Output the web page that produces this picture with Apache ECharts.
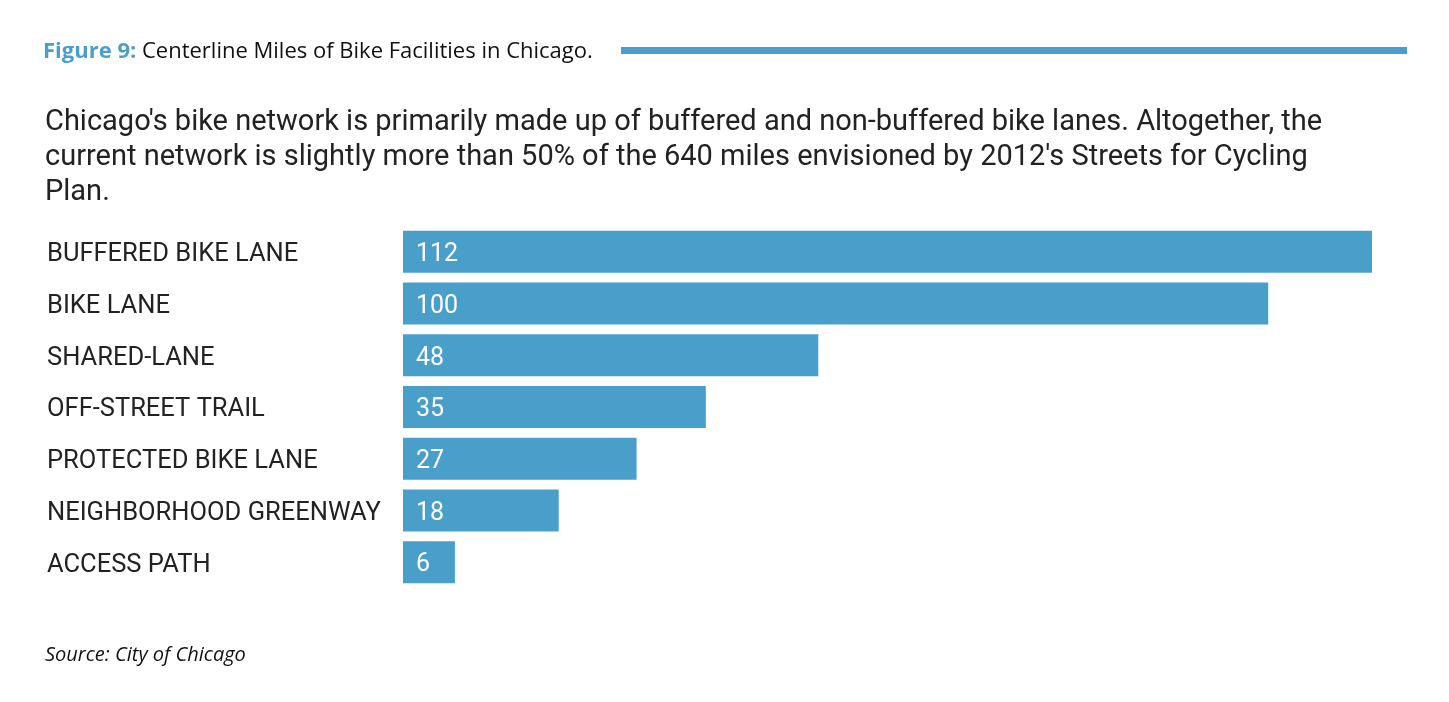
<!DOCTYPE html>
<html lang="en">
<head>
    <meta charset="UTF-8">
    <title>Centerline Miles of Bike Facilities in Chicago</title>
    <script src="https://cdn.jsdelivr.net/npm/echarts@6/dist/echarts.min.js"></script>
    <style>
        html, body { margin: 0; padding: 0; background: #fff; }
    </style>
</head>
<body>
<div id="container" style="width:1449px;height:702px;"></div>
<script>
    var categories = [
        'BUFFERED BIKE LANE',
        'BIKE LANE',
        'SHARED-LANE',
        'OFF-STREET TRAIL',
        'PROTECTED BIKE LANE',
        'NEIGHBORHOOD GREENWAY',
        'ACCESS PATH'
    ];
    var miles = [112, 100, 48, 35, 27, 18, 6];

    var subtitleLines = [
        "Chicago's bike network is primarily made up of buffered and non-buffered bike lanes. Altogether, the",
        "current network is slightly more than 50% of the 640 miles envisioned by 2012's Streets for Cycling",
        "Plan."
    ];

    var blue = '#4a9fca';
    var myChart = echarts.init(document.getElementById('container'));

    var option = {
        backgroundColor: '#fff',
        animation: false,
        graphic: [
            {
                type: 'text', left: 43, top: 41,
                style: {
                    text: '{b|Figure 9:} Centerline Miles of Bike Facilities in Chicago.',
                    font: '22px "Open Sans"',
                    fill: '#111',
                    rich: {
                        b: { fontFamily: 'Open Sans', fontWeight: 'bold', fontSize: 22, fill: blue }
                    }
                }
            },
            {
                // rule next to the figure title
                type: 'rect',
                shape: { x: 621, y: 47, width: 786, height: 7 },
                style: { fill: blue }
            },
            {
                type: 'text', left: 45, top: 105,
                style: {
                    text: subtitleLines.join('\n'),
                    font: '29px Roboto',
                    lineHeight: 35,
                    fill: '#222'
                }
            },
            {
                type: 'text', left: 45, top: 645,
                style: {
                    text: 'Source: City of Chicago',
                    font: 'italic 20px "Open Sans"',
                    fill: '#111'
                }
            }
        ],
        grid: { left: 403, right: 77, top: 226, height: 362, containLabel: false },
        xAxis: {
            type: 'value', min: 0, max: 112, show: false
        },
        yAxis: {
            type: 'category',
            data: categories,
            inverse: true,
            axisLine: { show: false },
            axisTick: { show: false },
            axisLabel: {
                align: 'left',
                margin: 356,
                formatter: '{a|{value}}',
                rich: {
                    a: {
                        padding: [6, 0, 0, 0],
                        fontFamily: 'Roboto',
                        fontSize: 25.5,
                        color: '#222'
                    }
                }
            }
        },
        series: [{
            type: 'bar',
            data: miles,
            barWidth: 42,
            itemStyle: { color: blue },
            label: {
                show: true,
                position: 'insideLeft',
                distance: 13,
                formatter: '{a|{c}}',
                rich: {
                    a: {
                        padding: [6, 0, 0, 0],
                        fontFamily: 'Roboto',
                        fontSize: 25,
                        color: '#fff'
                    }
                }
            }
        }]
    };
    myChart.setOption(option);
</script>
</body>
</html>
